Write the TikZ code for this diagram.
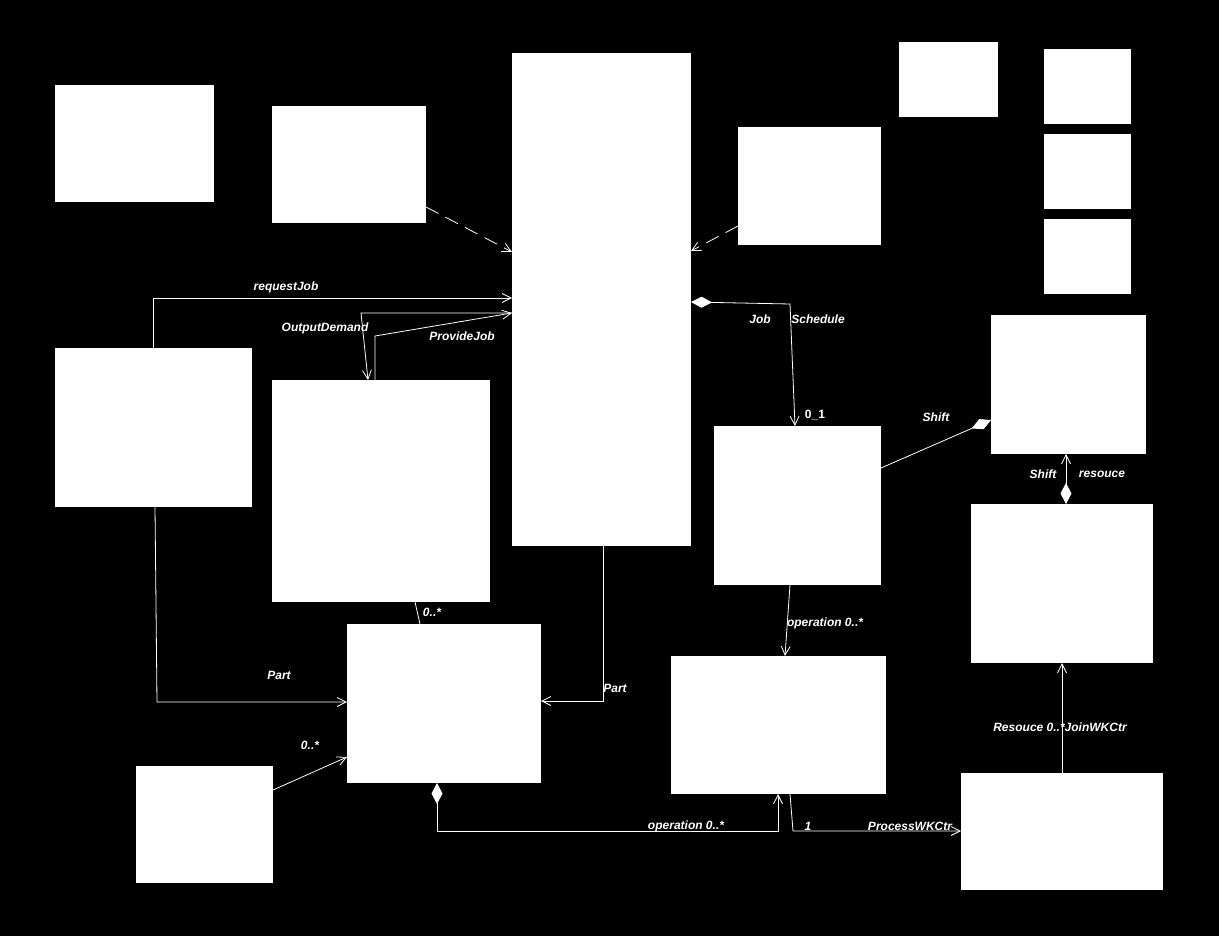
\documentclass[tikz,border=0pt]{standalone}
\usepackage{fontspec}
\setmainfont{Liberation Sans}
\usetikzlibrary{arrows.meta}
\begin{document}
\begin{tikzpicture}[x=1pt,y=-1pt,
  box/.style={fill=white,draw=none,inner sep=0pt,outer sep=0pt},
  conn/.style={draw=white,line width=0.8pt},
  sb/.tip={Straight Barb[length=9pt,width=9pt]},
  dd/.tip={Diamond[fill=white,length=21pt,width=11pt]},
  arr/.style={-sb},
  dashline/.style={dash pattern=on 14pt off 8pt},
  lbl/.style={text=white,font=\fontsize{12}{13}\selectfont\bfseries\itshape,inner sep=0pt}
]
\fill[black] (0,0) rectangle (1219,936);
\useasboundingbox (0,0) rectangle (1219,936);
% boxes
\node[box,minimum width=159pt,minimum height=117pt] (A) at (134.5,143.5) {};
\node[box,minimum width=154pt,minimum height=117pt] (B) at (349,164.5) {};
\node[box,minimum width=179pt,minimum height=493pt] (C) at (601.5,299.5) {};
\node[box,minimum width=143pt,minimum height=118pt] (D) at (809.5,186) {};
\node[box,minimum width=99pt,minimum height=75pt] (E) at (948.5,79.5) {};
\node[box,minimum width=87pt,minimum height=75pt] (F1) at (1087.5,86.5) {};
\node[box,minimum width=87pt,minimum height=75pt] (F2) at (1087.5,171.5) {};
\node[box,minimum width=87pt,minimum height=75pt] (F3) at (1087.5,256.5) {};
\node[box,minimum width=155pt,minimum height=139pt] (G) at (1068.5,384.5) {};
\node[box,minimum width=197pt,minimum height=159pt] (H) at (153.5,427.5) {};
\node[box,minimum width=218pt,minimum height=222pt] (I) at (381,491) {};
\node[box,minimum width=167pt,minimum height=159pt] (J) at (797.5,505.5) {};
\node[box,minimum width=182pt,minimum height=159pt] (K) at (1062,583.5) {};
\node[box,minimum width=194pt,minimum height=159pt] (L) at (444,703.5) {};
\node[box,minimum width=215pt,minimum height=138pt] (M) at (778.5,725) {};
\node[box,minimum width=137pt,minimum height=117pt] (N) at (204.5,824.5) {};
\node[box,minimum width=202pt,minimum height=117pt] (O) at (1062,831.5) {};
% connectors
\draw[conn,dashline,arr] (B.east |- 0,207) -- (C.west |- 0,252);
\draw[conn,dashline,arr] (D.west |- 0,226) -- (C.east |- 0,251);
\draw[conn,arr] (H.north) |- (C.west |- 0,298);
\draw[conn,arr] (C.west |- 0,313) -- (361,313) -- (I.north -| 368,0);
\draw[conn,arr] (I.north -| 375,0) -- (375,336) -- (C.west |- 0,313);
\draw[conn,dd-sb] (C.east |- 0,302) -- (790,304) -- (J.north -| 795,0);
\draw[conn,-dd] (J.east |- 0,468) -- (G.west |- 0,420);
\draw[conn,dd-sb] (K.north -| 1066,0) -- (G.south -| 1066,0);
\draw[conn,arr] (O.north) -- (K.south);
\draw[conn,arr] (M.south -| 790,0) -- (793,831) -- (O.west |- 0,831);
\draw[conn,dd-sb] (L.south -| 437,0) -- (437,831) -- (778,831) -- (M.south -| 778,0);
\draw[conn,arr] (H.south -| 155,0) -- (157,702) -- (L.west |- 0,702);
\draw[conn,arr] (C.south -| 603,0) -- (603,701) -- (L.east |- 0,701);
\draw[conn] (I.south -| 415,0) -- (L.north -| 420,0);
\draw[conn,arr] (N.east |- 0,790) -- (L.west |- 0,757);
\draw[conn,arr] (J.south -| 790,0) -- (M.north -| 785,0);
% labels
\node[lbl] (l1) at (286,287) {requestJob};
\node[lbl] (l2) at (325,328) {OutputDemand};
\node[lbl] (l3) at (462,336) {ProvideJob};
\node[lbl] (l4) at (760,319) {Job};
\node[lbl] (l5) at (818,319) {Schedule};
\node[lbl,font=\fontsize{12}{13}\selectfont\bfseries] (l6) at (815,415) {0\_1};
\node[lbl] (l7) at (936,417) {Shift};
\node[lbl] (l8) at (1043,474) {Shift};
\node[lbl] (l9) at (1102,474) {resouce};
\node[lbl] (l10) at (1060,727) {Resouce 0..*JoinWKCtr};
\node[lbl] (l11) at (808,826) {1};
\node[lbl] (l12) at (910,826) {ProcessWKCtr};
\node[lbl] (l13) at (686,826) {operation 0..*};
\node[lbl] (l14) at (279,675) {Part};
\node[lbl] (l15) at (615,688) {Part};
\node[lbl] (l16) at (432,612) {0..*};
\node[lbl] (l17) at (310,745) {0..*};
\node[lbl] (l18) at (825,623) {operation 0..*};
\end{tikzpicture}
\end{document}
